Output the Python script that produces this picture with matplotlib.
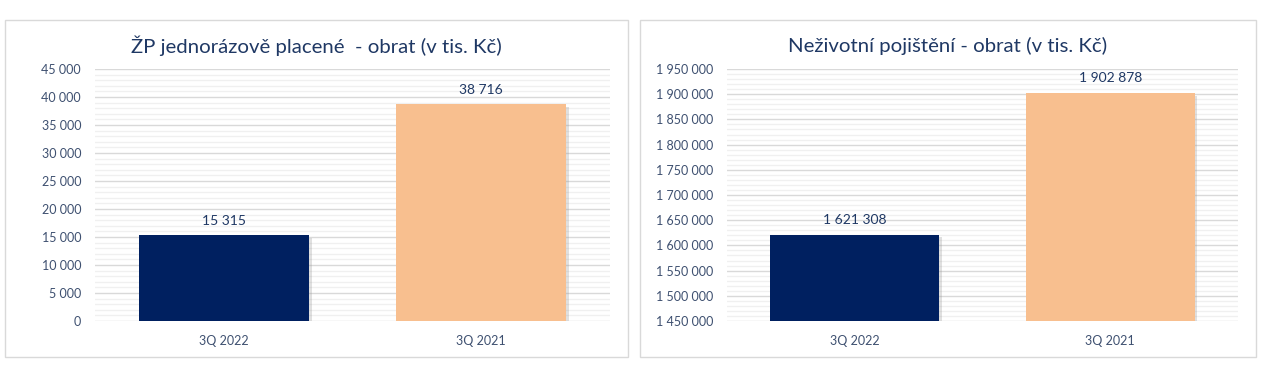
import matplotlib.pyplot as plt
from matplotlib.patches import Rectangle
from matplotlib.ticker import FuncFormatter, MultipleLocator, AutoMinorLocator
import matplotlib.patheffects as pe

categories = ["3Q 2022", "3Q 2021"]
left_values = [15315, 38716]
right_values = [1621308, 1902878]
left_title = "ŽP jednorázově placené  - obrat (v tis. Kč)"
right_title = "Neživotní pojištění - obrat (v tis. Kč)"

bar_colors = ["#002060", "#F8BF8F"]
text_color = "#1F3864"
tick_color = "#3E5070"

plt.rcParams['font.family'] = ['Lato', 'DejaVu Sans']

W, H = 1262, 371


def fmt(v, pos=None):
	return "{:,.0f}".format(v).replace(",", " ")


def draw_panel(ax, values, ylim, step):
	x = range(len(categories))
	bars = ax.bar(x, values, width=0.66, color=bar_colors, zorder=3)
	for b in bars:
		b.set_path_effects([pe.SimplePatchShadow(offset=(2, -2), shadow_rgbFace="#999999", alpha=0.3), pe.Normal()])
	ax.set_ylim(*ylim)
	ax.set_xlim(-0.5, len(categories) - 0.5)
	ax.yaxis.set_major_locator(MultipleLocator(step))
	ax.yaxis.set_minor_locator(AutoMinorLocator(5))
	ax.yaxis.set_major_formatter(FuncFormatter(fmt))
	ax.grid(axis="y", which="major", color="#D9D9D9", linewidth=1.0, zorder=0)
	ax.grid(axis="y", which="minor", color="#F0F0F0", linewidth=1.0, zorder=0)
	ax.set_xticks(list(x))
	ax.set_xticklabels(categories)
	ax.tick_params(axis="both", which="both", length=0, labelsize=9, labelcolor=tick_color)
	ax.tick_params(axis="y", pad=10)
	ax.tick_params(axis="x", pad=10)
	ax.patch.set_alpha(0)
	for s in ax.spines.values():
		s.set_visible(False)
	for i, v in enumerate(values):
		ax.annotate(fmt(v), (i, v), xytext=(0, 6), textcoords="offset points",
			ha="center", va="bottom", fontsize=10, color=text_color)


fig = plt.figure(figsize=(W / 100, H / 100), dpi=100)

# ramecky panelu
fig.patches.append(Rectangle((5 / W, 14 / H), 623 / W, 337 / H, transform=fig.transFigure,
	facecolor="white", edgecolor="#D9D9D9", linewidth=1.0, zorder=-5))
fig.patches.append(Rectangle((640 / W, 14 / H), 616 / W, 337 / H, transform=fig.transFigure,
	facecolor="white", edgecolor="#D9D9D9", linewidth=1.0, zorder=-5))

ax1 = fig.add_axes([95 / W, 50 / H, 515 / W, 252 / H])
ax2 = fig.add_axes([727 / W, 50 / H, 511 / W, 252 / H])

draw_panel(ax1, left_values, (0, 45000), 5000)
draw_panel(ax2, right_values, (1450000, 1950000), 50000)

fig.text(316.5 / W, 1 - 46 / H, left_title, ha="center", va="center", fontsize=14.7, color=text_color)
fig.text(948 / W, 1 - 46 / H, right_title, ha="center", va="center", fontsize=14.7, color=text_color)

fig.savefig("out.png", dpi=100)
